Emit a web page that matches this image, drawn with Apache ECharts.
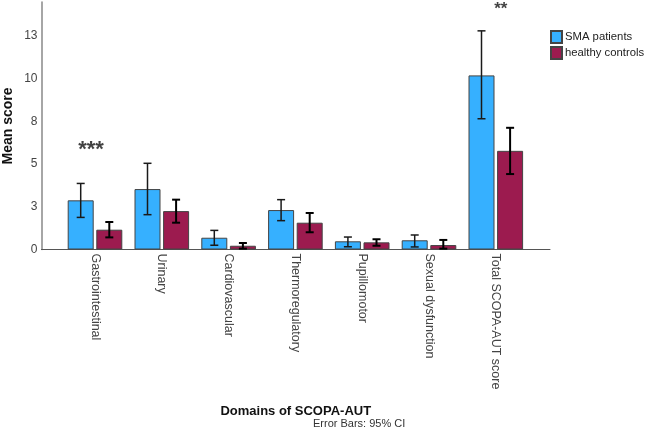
<!DOCTYPE html>
<html>
<head>
<meta charset="utf-8">
<script src="https://cdn.jsdelivr.net/npm/echarts@6/dist/echarts.min.js"></script>
<style>
  html, body { margin: 0; padding: 0; background: #fff; }
  #main { width: 646px; height: 438px; }
</style>
</head>
<body>
<div id="main"></div>
<script>
// domains on the x axis
const categories = ['Gastrointestinal', 'Urinary', 'Cardiovascular', 'Thermoregulatory',
  'Pupillomotor', 'Sexual dysfunction', 'Total SCOPA-AUT score'];

// SMA patients: mean and 95% CI
const smaMean = [2.88, 3.54, 0.69, 2.31, 0.48, 0.54, 10.2];
const smaLow  = [1.88, 2.04, 0.25, 1.69, 0.16, 0.15, 7.66];
const smaHigh = [3.87, 5.05, 1.12, 2.92, 0.73, 0.85, 12.81];

// healthy controls: mean and 95% CI
const hcMean = [1.16, 2.25, 0.22, 1.57, 0.42, 0.26, 5.78];
const hcLow  = [0.71, 1.57, 0.05, 1.01, 0.22, 0.05, 4.42];
const hcHigh = [1.61, 2.92, 0.38, 2.14, 0.60, 0.56, 7.13];

// significance marks
const sigIndex  = [0, 6];
const sigText   = ['***', '**'];
const sigHeight = [5.85, 14.1];

const yTicks = [0, 2.5, 5, 7.5, 10, 12.5];
const Y_MAX = 14.5;

const FONT = 'Liberation Sans, Arial, sans-serif';
const BAR_W = 26;
const OFFSET = 14.3;

let chart = echarts.init(document.getElementById('main'));

// error bar with caps, shifted onto the left/right bar of the pair
function errRender(sign, color, lw) {
    return function (params, api) {
        const x = api.value(0);
        const lo = api.coord([x, api.value(1)]);
        const hi = api.coord([x, api.value(2)]);
        const cx = lo[0] + sign * OFFSET;
        const cap = 4;
        const st = { stroke: color, lineWidth: lw };
        return {
            type: 'group',
            children: [
                { type: 'line', shape: { x1: cx, y1: lo[1], x2: cx, y2: hi[1] }, style: st },
                { type: 'line', shape: { x1: cx - cap, y1: lo[1], x2: cx + cap, y2: lo[1] }, style: st },
                { type: 'line', shape: { x1: cx - cap, y1: hi[1], x2: cx + cap, y2: hi[1] }, style: st }
            ]
        };
    };
}

chart.setOption({
    animation: false,
    textStyle: { fontFamily: FONT },
    grid: [
        // frame: axis lines, y labels, axis names
        { left: 41.5, right: 96, top: 2, bottom: 188.5, outerBoundsMode: 'none' },
        // bars
        { left: 61.6, right: 116.8, top: 2, bottom: 188.5, outerBoundsMode: 'none' }
    ],
    legend: {
        orient: 'vertical',
        left: 550, top: 30,
        padding: 0,
        icon: 'rect',
        itemWidth: 11, itemHeight: 12, itemGap: 2,
        textStyle: { fontSize: 11.3, color: '#222', fontFamily: FONT, padding: [0, 0, 0, -2] },
        data: ['SMA patients', 'healthy controls']
    },
    graphic: [
        {
            type: 'text', x: 8, y: 126, rotation: Math.PI / 2,
            style: {
                text: 'Mean score', font: 'bold 14px ' + FONT, fill: '#111',
                align: 'center', verticalAlign: 'middle'
            }
        },
        {
            type: 'text', left: 313, top: 418,
            style: { text: 'Error Bars: 95% CI', font: '11px ' + FONT, fill: '#333' }
        }
    ],
    xAxis: [
        {
            gridIndex: 0,
            type: 'category',
            data: [''],
            name: 'Domains of SCOPA-AUT',
            nameLocation: 'middle',
            nameGap: 155,
            nameTextStyle: { fontSize: 13, fontWeight: 'bold', color: '#111' },
            axisLine: { show: true, lineStyle: { color: '#555', width: 1 } },
            axisTick: { show: false },
            axisLabel: { show: false }
        },
        {
            gridIndex: 1,
            type: 'category',
            data: categories,
            axisLine: { show: false },
            axisTick: { show: false },
            axisLabel: {
                rotate: -90,
                margin: 4,
                fontSize: 12.5,
                color: '#444',
                interval: 0
            }
        }
    ],
    yAxis: [
        {
            gridIndex: 0,
            type: 'value',
            min: 0, max: Y_MAX, interval: 2.5,
            axisLine: { show: true, onZero: false, lineStyle: { color: '#888', width: 1.5 } },
            axisTick: { show: false },
            splitLine: { show: false },
            axisLabel: {
                margin: 4,
                fontSize: 12,
                color: '#444',
                formatter: v => yTicks.indexOf(v) >= 0 ? String(Math.round(v)) : ''
            }
        },
        {
            gridIndex: 1,
            type: 'value',
            min: 0, max: Y_MAX,
            show: false
        }
    ],
    series: [
        {
            name: 'SMA patients',
            type: 'bar',
            xAxisIndex: 1, yAxisIndex: 1,
            barWidth: BAR_W,
            barGap: '10%',
            itemStyle: { color: '#36B0FF', borderColor: '#444', borderWidth: 1 },
            data: smaMean
        },
        {
            name: 'healthy controls',
            type: 'bar',
            xAxisIndex: 1, yAxisIndex: 1,
            barWidth: BAR_W,
            barGap: '10%',
            itemStyle: { color: '#9C1B4F', borderColor: '#444', borderWidth: 1 },
            data: hcMean
        },
        {
            type: 'custom',
            xAxisIndex: 1, yAxisIndex: 1,
            renderItem: errRender(-1, '#1a1a1a', 1.5),
            data: smaLow.map((v, i) => [i, v, smaHigh[i]]),
            z: 5
        },
        {
            type: 'custom',
            xAxisIndex: 1, yAxisIndex: 1,
            renderItem: errRender(1, '#000', 2),
            data: hcLow.map((v, i) => [i, v, hcHigh[i]]),
            z: 5
        },
        {
            type: 'scatter',
            xAxisIndex: 1, yAxisIndex: 1,
            symbolSize: 0,
            silent: true,
            data: sigIndex.map((c, i) => ({
                value: [c, sigHeight[i]],
                label: i === 0 ? { fontSize: 22, offset: [-4, 0] } : { fontSize: 17, offset: [5, 0] }
            })),
            label: {
                show: true,
                position: 'inside',
                fontWeight: 'bold',
                color: '#111',
                formatter: p => sigText[p.dataIndex]
            }
        }
    ]
});
</script>
</body>
</html>
